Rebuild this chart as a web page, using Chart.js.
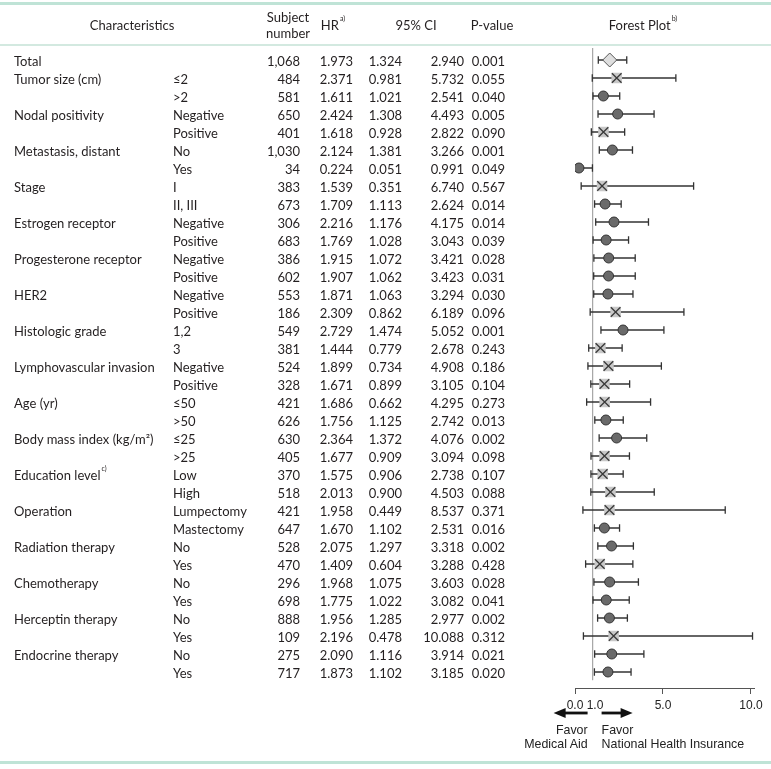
<!DOCTYPE html>
<html><head><meta charset="utf-8">
<script src="https://cdn.jsdelivr.net/npm/chart.js@4.4.0/dist/chart.umd.min.js"></script>
<style>
html,body{margin:0;padding:0;background:#fff;}
#wrap{position:relative;width:771px;height:769px;overflow:hidden;font-family:Lato,"Open Sans",sans-serif;color:#231f20;background:#fff;}
#c{position:absolute;left:0;top:0;}
.t{position:absolute;font-size:13px;line-height:16px;white-space:nowrap;}
.a{position:absolute;font-family:"Liberation Sans",Arial,sans-serif;font-size:12.4px;line-height:14px;white-space:nowrap;color:#222;}
.ln{position:absolute;left:0;width:771px;}
sup{font-size:7px;line-height:0;vertical-align:top;position:relative;top:1px;margin-left:1px;}
</style></head>
<body><div id="wrap"><canvas id="c" width="771" height="769"></canvas>
<div class="ln" style="top:2px;height:3px;background:#bfe3d6"></div>
<div class="ln" style="top:44px;height:2px;background:#d3e9e0"></div>
<div class="ln" style="top:761px;height:3px;background:#bfe3d6"></div>
</div>
<script>
// ---------------- data ----------------
const GROUPS = ["Total","Tumor size (cm)","","Nodal positivity","","Metastasis, distant","","Stage","","Estrogen receptor","","Progesterone receptor","","HER2","","Histologic grade","","Lymphovascular invasion","","Age (yr)","","Body mass index (kg/m²)","","Education level","","Operation","","Radiation therapy","","Chemotherapy","","Herceptin therapy","","Endocrine therapy",""];
const GROUP_NOTES = {23: "c)"};
const SUBGROUPS = ["","≤2",">2","Negative","Positive","No","Yes","I","II, III","Negative","Positive","Negative","Positive","Negative","Positive","1,2","3","Negative","Positive","≤50",">50","≤25",">25","Low","High","Lumpectomy","Mastectomy","No","Yes","No","Yes","No","Yes","No","Yes"];
const SUBJECTS = [1068,484,581,650,401,1030,34,383,673,306,683,386,602,553,186,549,381,524,328,421,626,630,405,370,518,421,647,528,470,296,698,888,109,275,717];
const HR = [1.973,2.371,1.611,2.424,1.618,2.124,0.224,1.539,1.709,2.216,1.769,1.915,1.907,1.871,2.309,2.729,1.444,1.899,1.671,1.686,1.756,2.364,1.677,1.575,2.013,1.958,1.670,2.075,1.409,1.968,1.775,1.956,2.196,2.090,1.873];
const CI_LOW = [1.324,0.981,1.021,1.308,0.928,1.381,0.051,0.351,1.113,1.176,1.028,1.072,1.062,1.063,0.862,1.474,0.779,0.734,0.899,0.662,1.125,1.372,0.909,0.906,0.900,0.449,1.102,1.297,0.604,1.075,1.022,1.285,0.478,1.116,1.102];
const CI_HIGH = [2.940,5.732,2.541,4.493,2.822,3.266,0.991,6.740,2.624,4.175,3.043,3.421,3.423,3.294,6.189,5.052,2.678,4.908,3.105,4.295,2.742,4.076,3.094,2.738,4.503,8.537,2.531,3.318,3.288,3.603,3.082,2.977,10.088,3.914,3.185];
const P_VALUES = [0.001,0.055,0.040,0.005,0.090,0.001,0.049,0.567,0.014,0.014,0.039,0.028,0.031,0.030,0.096,0.001,0.243,0.186,0.104,0.273,0.013,0.002,0.098,0.107,0.088,0.371,0.016,0.002,0.428,0.028,0.041,0.002,0.312,0.021,0.020];
const X_TICKS = [0, 1, 5, 10];
const REF_HR = 1;
const SIG_LEVEL = 0.05;
const HEADERS = ["Characteristics","Subject number","HR","95% CI","P-value","Forest Plot"];

// ---------------- chart ----------------
const rows = HR.map((_, i) => i);
const Y_MIN = -0.667, Y_MAX = 34.889, REF_END = 34.45;

const totalPts = rows.filter(i => i === 0).map(i => ({x: HR[i], y: i}));
const sigPts = rows.filter(i => i > 0 && P_VALUES[i] < SIG_LEVEL).map(i => ({x: HR[i], y: i}));
const nsPts = rows.filter(i => i > 0 && P_VALUES[i] >= SIG_LEVEL).map(i => ({x: HR[i], y: i}));
const capPts = rows.flatMap(i => [{x: CI_LOW[i], y: i}, {x: CI_HIGH[i], y: i}]);

const datasets = [
  {data: nsPts, pointStyle: 'crossRot', pointRadius: 6.8, borderColor: '#3a3a3a', pointBorderWidth: 1.3, backgroundColor: 'transparent', order: 0},
  {data: nsPts, pointStyle: 'rect', pointRadius: 7.5, backgroundColor: '#c8c8c8', borderColor: '#c8c8c8', pointBorderWidth: 0, order: 1},
  {data: sigPts, pointStyle: 'circle', pointRadius: 5, backgroundColor: '#6a6a6a', borderColor: '#333', pointBorderWidth: 1, order: 1},
  {data: totalPts, pointStyle: 'rectRot', pointRadius: 7, backgroundColor: '#dedede', borderColor: '#555', pointBorderWidth: 1, order: 1},
  {data: capPts, pointStyle: 'line', rotation: 90, pointRadius: 3.8, borderColor: '#333', pointBorderWidth: 1.3, order: 5},
];
rows.forEach(i => datasets.push({
  data: [{x: CI_LOW[i], y: i}, {x: CI_HIGH[i], y: i}],
  showLine: true, pointRadius: 0, borderColor: '#333', borderWidth: 1.3, order: 6
}));
datasets.push({
  data: [{x: REF_HR, y: Y_MIN}, {x: REF_HR, y: REF_END}],
  showLine: true, pointRadius: 0, borderColor: '#a8a8a8', borderWidth: 1, order: 10
});

const arrowPlugin = {
  id: 'arrows',
  afterDraw(chart) {
    const c = chart.ctx, x1 = chart.scales.x.getPixelForValue(REF_HR), y = 713;
    c.save();
    c.fillStyle = '#111'; c.strokeStyle = '#111'; c.lineWidth = 2.8;
    // left arrow
    c.beginPath(); c.moveTo(x1 - 5, y); c.lineTo(x1 - 29, y); c.stroke();
    c.beginPath(); c.moveTo(x1 - 39, y); c.lineTo(x1 - 27, y - 5); c.lineTo(x1 - 27, y + 5); c.closePath(); c.fill();
    // right arrow
    c.beginPath(); c.moveTo(x1 + 9, y); c.lineTo(x1 + 29, y); c.stroke();
    c.beginPath(); c.moveTo(x1 + 40, y); c.lineTo(x1 + 28, y - 5); c.lineTo(x1 + 28, y + 5); c.closePath(); c.fill();
    c.restore();
  }
};

const chart = new Chart(document.getElementById('c'), {
  type: 'scatter',
  data: {datasets},
  plugins: [arrowPlugin],
  options: {
    responsive: false, animation: false, events: [],
    layout: {padding: {left: 575, right: 16.5, top: 48, bottom: 0}},
    plugins: {legend: {display: false}, tooltip: {enabled: false}},
    scales: {
      x: {
        type: 'linear', min: 0, max: 10.2, position: 'bottom',
        afterBuildTicks: s => { s.ticks = X_TICKS.map(v => ({value: v})); },
        afterFit: s => { s.height = 81; },
        ticks: {autoSkip: false, maxRotation: 0, padding: 4, color: '#222',
          font: {family: '"Liberation Sans", Arial, sans-serif', size: 12},
          callback: v => (v === REF_HR ? '\u2009\u2009' : '') + Number(v).toFixed(1)},
        grid: {drawOnChartArea: false, tickLength: 6, color: '#555',
          tickColor: ctx => (ctx.tick && ctx.tick.value === REF_HR) ? 'rgba(0,0,0,0)' : '#555'},
        border: {display: true, color: '#555', width: 1}
      },
      y: {type: 'linear', reverse: true, min: Y_MIN, max: Y_MAX, display: false}
    }
  }
});

// ---------------- text ----------------
const wrap = document.getElementById('wrap');
function addText(html, x, y, align, cls) {
  const d = document.createElement('div');
  d.className = cls || 't';
  d.innerHTML = html;
  const h = cls === 'a' ? 14 : 16;
  d.style.top = (y - h / 2) + 'px';
  if (align === 'right') d.style.right = (771 - x) + 'px';
  else if (align === 'center') { d.style.left = x + 'px'; d.style.transform = 'translateX(-50%)'; d.style.textAlign = 'center'; }
  else d.style.left = x + 'px';
  wrap.appendChild(d);
}
const ys = chart.scales.y, xs = chart.scales.x;
const COL = {label: 14, sub: 173, n: 300, hr: 353, lo: 402, hi: 464, p: 505};
rows.forEach(i => {
  const y = ys.getPixelForValue(i) + 1;
  if (GROUPS[i]) addText(GROUPS[i] + (GROUP_NOTES[i] ? '<sup>' + GROUP_NOTES[i] + '</sup>' : ''), COL.label, y, 'left');
  if (SUBGROUPS[i]) addText(SUBGROUPS[i], COL.sub, y, 'left');
  addText(SUBJECTS[i].toLocaleString('en-US'), COL.n, y, 'right');
  addText(HR[i].toFixed(3), COL.hr, y, 'right');
  addText(CI_LOW[i].toFixed(3), COL.lo, y, 'right');
  addText(CI_HIGH[i].toFixed(3), COL.hi, y, 'right');
  addText(P_VALUES[i].toFixed(3), COL.p, y, 'right');
});
// header
addText(HEADERS[0], 132, 25, 'center');
addText(HEADERS[1].split(' ')[0], 288, 17, 'center');
addText(HEADERS[1].split(' ')[1], 288, 33, 'center');
addText(HEADERS[2] + '<sup>a)</sup>', 333, 25, 'center');
addText(HEADERS[3], 416, 25, 'center');
addText(HEADERS[4], 492, 25, 'center');
addText(HEADERS[5] + '<sup>b)</sup>', 643, 25, 'center');
// favor labels
const xr = xs.getPixelForValue(REF_HR);
addText('Favor', xr - 5, 730, 'right', 'a');
addText('Medical Aid', xr - 5, 744, 'right', 'a');
addText('Favor', xr + 9, 730, 'left', 'a');
addText('National Health Insurance', xr + 9, 744, 'left', 'a');
</script>
</body></html>
